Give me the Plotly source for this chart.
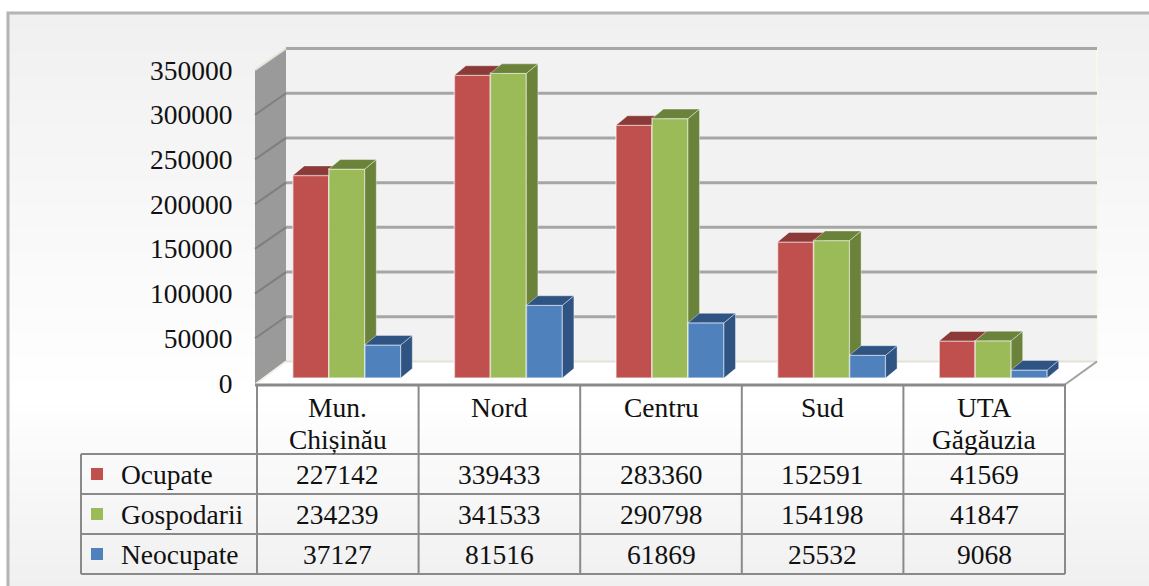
import plotly.graph_objects as go

# ---- data ----
categories = ["Mun.<br>Chișinău", "Nord", "Centru", "Sud", "UTA<br>Găgăuzia"]
series_names = ["Ocupate", "Gospodarii", "Neocupate"]
ocupate = [227142, 339433, 283360, 152591, 41569]
gospodarii = [234239, 341533, 290798, 154198, 41847]
neocupate = [37127, 81516, 61869, 25532, 9068]
y_ticks = [0, 50000, 100000, 150000, 200000, 250000, 300000, 350000]

# ---- styling / geometry ----
W, H = 1149, 586
FONT = "Liberation Serif"
FS = 27.5
TEXT = "#111111"
front = ["#C0504D", "#9BBB59", "#4F81BD"]
dark = ["#8C3A38", "#6A8239", "#2F5382"]
X0, CW = 257.0, 161.6      # left of first column, column width (px)
Y0 = 383.0                 # pixel of value 0 on the front plane (tick labels)
YS = 313.0 / 350000        # pixels per unit, front plane and walls
BAR_Y0 = 378.0             # pixel of value 0 on the plane of the bars
BAR_YS = 0.000892          # pixels per unit on the plane of the bars
PL, PR, PT, PB = 250, 1102, 42, 392  # plot box in pixels


def px(v):
    return v / W


def py(v):
    return 1 - v / H


xu = 1 / CW                # category units per pixel
yu = 1 / YS                # value units per pixel
bu = 1 / BAR_YS
x_range = [(PL - X0) * xu, (PR - X0) * xu]
y_range = [(Y0 - PB) * yu, (Y0 - PT) * yu]
bar_y_range = [(BAR_Y0 - PB) * bu, (BAR_Y0 - PT) * bu]
wall_x0 = -2 * xu
wall_dx, wall_dy = 31 * xu, 21.5 * yu
plane_dx = 9 * xu
face_dx, face_dy = 11.5 * xu, 9.5 * bu
bar_w = 36 * xu
top_val = y_ticks[-1]
x_end = len(categories)

fig = go.Figure()
shapes = []
annots = []

# frame with vertical gradient
step = 8
for top in range(13, H, step):
    c = (top + step / 2)
    t = abs(c - 395) / (382 if c < 395 else 190)
    g = int(round(255 - 15 * min(t, 1)))
    shapes.append(dict(type="rect", xref="paper", yref="paper", x0=px(8), x1=1,
                       y0=py(top), y1=py(top + step), fillcolor=f"rgb({g},{g},{g})",
                       line_width=0, layer="below"))
shapes.append(dict(type="path", xref="paper", yref="paper",
                   path=f"M {px(8)} 0 L {px(8)} {py(13)} L 1 {py(13)}",
                   line=dict(color="#B4B4B4", width=3), layer="below"))


def poly(pts, fill, lw=0, lc=None):
    path = "M " + " L ".join(f"{a} {b}" for a, b in pts) + " Z"
    shapes.append(dict(type="path", xref="x", yref="y", path=path, fillcolor=fill,
                       line=dict(width=lw, color=lc or fill), layer="below"))


def seg(a, b, c, d, color, w):
    shapes.append(dict(type="line", xref="x", yref="y", x0=a, y0=b, x1=c, y1=d,
                       line=dict(color=color, width=w), layer="below"))


# back wall, left wall, floor
back_l = wall_x0 + wall_dx
back_r = x_end + 32 * xu
floor_v = -1.5 * yu
poly([(back_l, wall_dy), (back_r, wall_dy),
      (back_r, top_val + wall_dy), (back_l, top_val + wall_dy)], "#F2F2F2")
seg(back_r, wall_dy, back_r, top_val + wall_dy, "#FBF6EA", 2)
poly([(wall_x0, floor_v), (back_l, wall_dy), (back_l, top_val + wall_dy), (wall_x0, top_val)], "#9A9A9A")
poly([(wall_x0, floor_v), (x_end, floor_v), (back_r, wall_dy), (back_l, wall_dy)], "#FFFFFF")
seg(back_l, wall_dy, back_r, wall_dy, "#E4E2D6", 2)
seg(wall_x0, floor_v, back_l, wall_dy, "#F4F2E8", 2)
seg(x_end, floor_v, back_r, wall_dy, "#A0A0A0", 2)
for v in y_ticks[1:]:
    seg(back_l, v + wall_dy, back_r, v + wall_dy, "#A6A6A6", 3)
    if v < top_val:
        seg(wall_x0, v, back_l, v + wall_dy, "#7F7F7F", 2)
seg(wall_x0, top_val, back_l, top_val + wall_dy, "#E6E4D8", 2)

# main subplot only carries the value axis
fig.add_trace(go.Scatter(x=[0] * len(y_ticks), y=y_ticks, mode="markers",
                         marker=dict(opacity=0), hoverinfo="skip", showlegend=False))

# bars: one overlaid subplot per series, so each series paints over the previous
series = [ocupate, gospodarii, neocupate]
HALO = "rgba(255,255,255,0.55)"
for s, vals in enumerate(series):
    suffix = str(s + 2)
    xa, ya = "x" + suffix, "y" + suffix
    lefts = [i + 0.5 + plane_dx + (s - 1.5) * bar_w for i in range(len(vals))]
    fig.add_trace(go.Bar(x=[l + bar_w / 2 for l in lefts], y=vals,
                         width=bar_w, name=series_names[s],
                         marker=dict(color=front[s], line=dict(color=HALO, width=1.5)),
                         showlegend=False, xaxis=xa, yaxis=ya))
    tx, ty, sx, sy = [], [], [], []
    for l, v in zip(lefts, vals):
        r = l + bar_w
        tx += [l, r, r + face_dx, l + face_dx, l, None]
        ty += [v, v, v + face_dy, v + face_dy, v, None]
        sx += [r, r + face_dx, r + face_dx, r, r, None]
        sy += [v, v + face_dy, face_dy, 0, v, None]
    for xs, ys in ((sx, sy), (tx, ty)):
        fig.add_trace(go.Scatter(x=xs, y=ys, mode="lines", fill="toself", fillcolor=dark[s],
                                 line=dict(width=1, color="rgba(255,255,255,0.4)"),
                                 hoverinfo="skip", showlegend=False, xaxis=xa, yaxis=ya))

# ---- data table ----
TBL_L, TBL_T = 81, 454
TBL_TOP = 384
ROW_H = 40
GRID = "#8A8A8A"
n_rows = len(series)
TBL_B = TBL_T + n_rows * ROW_H


def pline(a, b, c, d, w=2):
    shapes.append(dict(type="line", xref="paper", yref="paper", x0=px(a), y0=py(b),
                       x1=px(c), y1=py(d), line=dict(color=GRID, width=w), layer="above"))


pline(X0 - 2, TBL_TOP + 1, X0 + CW * 5, TBL_TOP + 1, 3)
for r in range(n_rows + 1):
    pline(TBL_L, TBL_T + r * ROW_H, X0 + CW * 5, TBL_T + r * ROW_H)
pline(TBL_L, TBL_T, TBL_L, TBL_B)
for c in range(6):
    pline(X0 + c * CW, TBL_TOP, X0 + c * CW, TBL_B)


def text(s, x, y, anchor="center"):
    annots.append(dict(text=s, xref="paper", yref="paper", x=px(x), y=py(y), showarrow=False,
                       xanchor=anchor, yanchor="middle", align=anchor,
                       font=dict(family=FONT, size=FS, color=TEXT)))


for c, name in enumerate(categories):
    cx = X0 + (c + 0.5) * CW
    for k, part in enumerate(name.split("<br>")):
        text(part, cx, 407 + k * 32)

for r, vals in enumerate(series):
    cy = TBL_T + (r + 0.5) * ROW_H
    shapes.append(dict(type="rect", xref="paper", yref="paper", x0=px(91), x1=px(103),
                       y0=py(cy - 6), y1=py(cy + 6), fillcolor=front[r], line_width=0, layer="above"))
    text(series_names[r], 119, cy, "left")
    for c, v in enumerate(vals):
        text(str(v), X0 + (c + 0.5) * CW, cy)

# ---- layout ----
dom_x = [px(PL), px(PR)]
dom_y = [py(PB), py(PT)]
hidden = dict(visible=False, fixedrange=True)
layout_axes = dict(
    xaxis=dict(domain=dom_x, range=x_range, **hidden),
    yaxis=dict(domain=dom_y, range=y_range, tickmode="array", tickvals=y_ticks,
               ticktext=[str(v) for v in y_ticks], showgrid=False, zeroline=False,
               showline=False, ticks="outside", ticklen=11, tickcolor="rgba(0,0,0,0)",
               tickfont=dict(family=FONT, size=FS, color=TEXT), fixedrange=True, anchor="x"),
)
for n in (2, 3, 4):
    layout_axes[f"xaxis{n}"] = dict(domain=dom_x, range=x_range, overlaying="x", anchor=f"y{n}", **hidden)
    layout_axes[f"yaxis{n}"] = dict(domain=dom_y, range=bar_y_range, overlaying="y", anchor=f"x{n}", **hidden)

fig.update_layout(
    width=W, height=H, margin=dict(l=0, r=0, t=0, b=0, pad=0, autoexpand=False),
    paper_bgcolor="#FFFFFF", plot_bgcolor="rgba(0,0,0,0)", showlegend=False,
    barmode="overlay", shapes=shapes, annotations=annots, **layout_axes,
)

fig.write_html("out.html", config={"displayModeBar": False},
               post_script="document.body.style.margin='0';document.documentElement.style.overflow='hidden';")
